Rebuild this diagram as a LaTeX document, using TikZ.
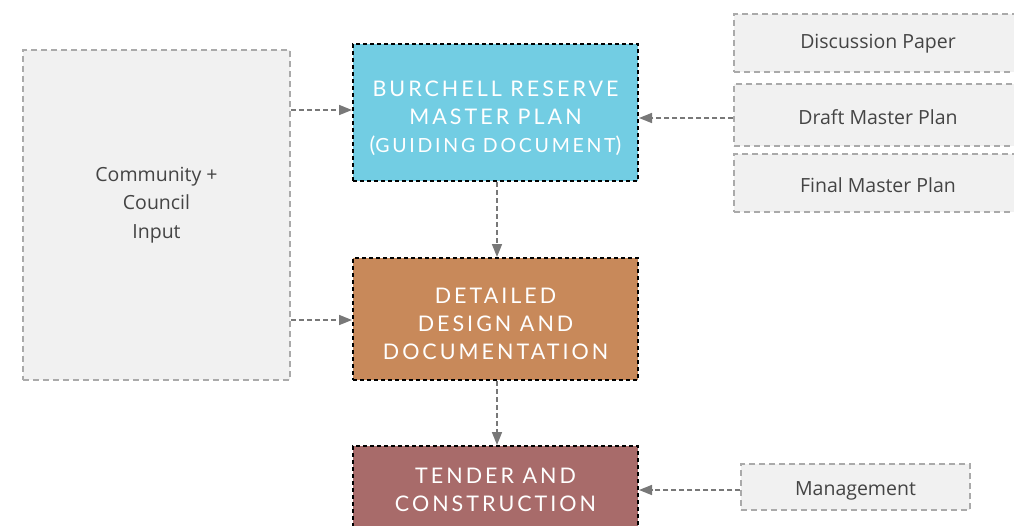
\documentclass[tikz,border=0pt]{standalone}
\usepackage{fontspec}
\usetikzlibrary{positioning,arrows.meta}
\setmainfont{Open Sans}
\newfontfamily\capsfont[LetterSpace=14]{Lato}
\definecolor{brBlue}{HTML}{72CDE3}
\definecolor{brBrown}{HTML}{C8895A}
\definecolor{brRed}{HTML}{A86B6A}
\definecolor{brGrey}{HTML}{F1F1F1}
\definecolor{brEdge}{HTML}{AAAAAA}
\definecolor{brArrow}{HTML}{787878}
\definecolor{brText}{HTML}{444444}
\newcommand{\smallcapsline}[1]{{\fontsize{19.5}{28}\selectfont #1}}

\begin{document}
\begin{tikzpicture}[x=1pt, y=-1pt,
    inputbox/.style={draw=brEdge, fill=brGrey, line width=1.5pt, dash pattern=on 6pt off 4pt, inner sep=0pt},
    inputtext/.style={text=brText, font=\fontsize{19.5}{28.5}\selectfont, align=center},
    stagebox/.style={draw=black, line width=2pt, dash pattern=on 4pt off 3pt, inner sep=0pt,
        minimum width=285pt},
    stagetext/.style={text=white, font=\capsfont\fontsize{21.5}{28}\selectfont, align=center},
    flow/.style={draw=brArrow, line width=1.6pt, dash pattern=on 5pt off 3pt,
        -{Triangle[length=13pt,width=10pt]}}]
    \useasboundingbox (0,0) rectangle (1014,525);
    \begin{scope}
    \clip (0,0) rectangle (1014,525);

    % left input
    \node[inputbox, minimum width=267pt, minimum height=330pt,
        label={[inputtext, yshift=10pt]center:{Community +\\Council\\Input}}] (community) at (156.5,215) {};

    % main stages
    \node[stagebox, fill=brBlue, minimum height=137pt,
        label={[stagetext, yshift=-6pt]center:{BURCHELL RESERVE\\MASTER PLAN\\(\smallcapsline{GUIDING DOCUMENT})}}]
        (masterplan) at (495.5,112.5) {};
    \node[stagebox, fill=brBrown, minimum height=122pt,
        label={[stagetext, yshift=-5pt]center:{DETAILED\\DESIGN AND\\DOCUMENTATION}}]
        (design) at (495.5,319) {};
    \node[stagebox, fill=brRed, minimum height=88pt,
        label={[stagetext]center:{TENDER AND\\CONSTRUCTION}}]
        (tender) at (495.5,490) {};

    % right inputs
    \node[inputbox, minimum width=288pt, minimum height=58pt,
        label={[inputtext, yshift=-1pt]center:Discussion Paper}] (discussion) at (878,43) {};
    \node[inputbox, minimum width=288pt, minimum height=62pt,
        label={[inputtext, yshift=-2pt]center:Draft Master Plan}] (draft) at (878,115) {};
    \node[inputbox, minimum width=288pt, minimum height=58pt,
        label={[inputtext, yshift=-2pt]center:Final Master Plan}] (final) at (878,183) {};
    \node[inputbox, minimum width=229pt, minimum height=46pt,
        label={[inputtext, yshift=-4pt]center:Management}] (management) at (855.5,487) {};

    % connectors
    \draw[flow] (community.east |- 0,110) -- (masterplan.west |- 0,110);
    \draw[flow] (community.east |- 0,320) -- (design.west |- 0,320);
    \draw[flow] (masterplan.south -| 497,0) -- (design.north -| 497,0);
    \draw[flow] (design.south -| 497,0) -- (tender.north -| 497,0);
    \draw[flow] (draft.west |- 0,118) -- (masterplan.east |- 0,118);
    \draw[flow] (management.west |- 0,490) -- (tender.east |- 0,490);
    \end{scope}
\end{tikzpicture}
\end{document}
